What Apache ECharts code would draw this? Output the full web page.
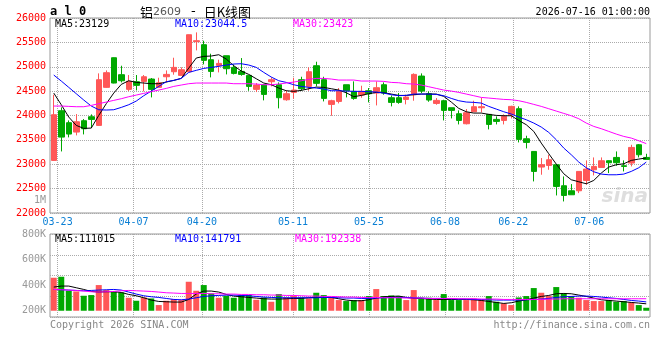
<!DOCTYPE html>
<html>
<head>
    <meta charset="utf-8">
    <title>铝2609 日K线图</title>
    <style>
        body { margin: 0; background: #fff; }
    </style>
</head>
<body>
    <div id="main" style="width: 660px;height:360px;"></div>
    <script src="https://cdn.jsdelivr.net/npm/echarts/dist/echarts.min.js"></script>
    <script>
        // trading days shown (03-20 .. 07-16)
        var dates = ['03-20', '03-23', '03-24', '03-25', '03-26', '03-27', '03-30', '03-31', '04-01', '04-02',
            '04-03', '04-07', '04-08', '04-09', '04-10', '04-13', '04-14', '04-15', '04-16', '04-17',
            '04-20', '04-21', '04-22', '04-23', '04-24', '04-27', '04-28', '04-29', '04-30', '05-06',
            '05-07', '05-08', '05-11', '05-12', '05-13', '05-14', '05-15', '05-18', '05-19', '05-20',
            '05-21', '05-22', '05-25', '05-26', '05-27', '05-28', '05-29', '06-01', '06-02', '06-03',
            '06-04', '06-05', '06-08', '06-09', '06-10', '06-11', '06-12', '06-15', '06-16', '06-17',
            '06-18', '06-22', '06-23', '06-24', '06-25', '06-26', '06-29', '06-30', '07-01', '07-02',
            '07-03', '07-06', '07-07', '07-08', '07-09', '07-10', '07-13', '07-14', '07-15', '07-16'];
        var tickDates = ['03-23', '04-07', '04-20', '05-11', '05-25', '06-08', '06-22', '07-06'];

        // [open, close, low, high]
        var kline = [
            [23079, 24016, 23070, 24426], [24098, 23557, 23263, 24166], [23852, 23619, 23551, 23899], [23660, 23872, 23592, 24029],
            [23893, 23728, 23612, 23927], [23975, 23920, 23742, 24023], [23797, 24734, 23790, 24864], [24577, 24878, 24570, 24925],
            [25185, 24666, 24660, 25190], [24837, 24713, 24679, 25021], [24536, 24700, 24501, 24830], [24693, 24618, 24515, 24830],
            [24700, 24795, 24494, 24830], [24748, 24536, 24371, 24768], [24577, 24672, 24570, 24775], [24795, 24843, 24680, 24925],
            [24898, 24987, 24837, 25185], [24823, 24939, 24823, 24987], [24898, 25657, 24898, 25660], [25514, 25534, 25336, 25705],
            [25452, 25131, 25049, 25534], [25144, 24905, 24782, 25267], [25028, 25069, 24884, 25144], [25226, 24960, 24843, 25226],
            [24987, 24864, 24843, 25049], [24905, 24843, 24816, 25178], [24823, 24597, 24508, 24823], [24536, 24624, 24481, 24665],
            [24631, 24433, 24310, 24631], [24693, 24734, 24597, 24782], [24631, 24365, 24146, 24679], [24323, 24447, 24303, 24515],
            [24474, 24522, 24344, 24775], [24734, 24549, 24508, 24795], [24597, 24898, 24508, 24987], [25021, 24659, 24597, 25103],
            [24734, 24351, 24289, 24795], [24228, 24303, 23995, 24323], [24289, 24495, 24248, 24563], [24631, 24508, 24371, 24631],
            [24495, 24351, 24323, 24700], [24419, 24495, 24365, 24611], [24508, 24447, 24269, 24563], [24460, 24570, 24207, 24700],
            [24631, 24460, 24426, 24679], [24365, 24269, 24187, 24412], [24365, 24269, 24241, 24460], [24330, 24378, 24228, 24426],
            [24426, 24843, 24303, 24864], [24809, 24501, 24460, 24864], [24447, 24317, 24282, 24495], [24248, 24310, 24221, 24358],
            [24303, 24105, 23899, 24323], [24159, 24105, 23940, 24159], [24036, 23899, 23817, 24105], [23831, 24057, 23817, 24132],
            [24077, 24180, 24070, 24303], [24159, 24180, 24064, 24365], [24023, 23817, 23715, 24030], [23920, 23879, 23817, 23982],
            [23899, 23982, 23817, 24023], [24016, 24187, 23940, 24200], [24139, 23510, 23448, 24187], [23523, 23448, 23325, 23585],
            [23263, 22853, 22648, 23263], [22942, 22990, 22785, 23127], [22976, 23092, 22887, 23195], [22990, 22545, 22360, 22990],
            [22559, 22360, 22237, 22750], [22456, 22374, 22374, 22593], [22456, 22853, 22408, 22853], [22668, 22901, 22579, 23079],
            [22887, 22956, 22771, 23140], [22935, 23072, 22935, 23140], [23072, 23031, 22819, 23080], [23140, 23031, 22969, 23263],
            [22969, 22956, 22853, 23079], [23024, 23345, 22956, 23400], [23400, 23195, 23140, 23414], [23140, 23099, 23099, 23215]
        ];

        var ma5 = [24460, 24221, 23968, 23797, 23735, 23742, 24002, 24242, 24460, 24638, 24713, 24679, 24666, 24652, 24652, 24686,
            24720, 24761, 24973, 25179, 25213, 25220, 25247, 25158, 25021, 24912, 24843, 24754, 24666, 24631, 24563, 24508,
            24495, 24515, 24549, 24583, 24577, 24549, 24522, 24467, 24385, 24412, 24447, 24474, 24467, 24440, 24412, 24412,
            24426, 24440, 24440, 24440, 24392, 24276, 24146, 24077, 24050, 24050, 24023, 24002, 23995, 23995, 23899, 23811,
            23674, 23434, 23216, 23003, 22805, 22682, 22641, 22600, 22668, 22819, 22942, 22990, 23010, 23079, 23106, 23129];
        var ma10 = [24830, 24707, 24577, 24447, 24317, 24194, 24118, 24112, 24118, 24166, 24221, 24296, 24406, 24501, 24597, 24693,
            24720, 24761, 24884, 24926, 24966, 24987, 25008, 25035, 25056, 25062, 25035, 24987, 24884, 24789, 24713, 24679,
            24631, 24597, 24577, 24563, 24543, 24508, 24508, 24501, 24495, 24495, 24488, 24481, 24460, 24426, 24406, 24413,
            24440, 24440, 24440, 24433, 24406, 24351, 24303, 24276, 24269, 24255, 24187, 24132, 24077, 24030, 23968, 23913,
            23845, 23763, 23653, 23503, 23332, 23195, 23045, 22928, 22846, 22798, 22784, 22784, 22798, 22853, 22928, 23044.5];
        var ma30 = [24194, 24194, 24187, 24180, 24180, 24207, 24242, 24276, 24310, 24344, 24385, 24419, 24454, 24488, 24522, 24556,
            24597, 24625, 24652, 24666, 24666, 24666, 24666, 24666, 24652, 24652, 24652, 24645, 24631, 24631, 24645, 24666,
            24686, 24713, 24741, 24761, 24761, 24748, 24727, 24727, 24727, 24707, 24707, 24707, 24700, 24679, 24672, 24652,
            24645, 24625, 24590, 24556, 24522, 24501, 24474, 24440, 24406, 24371, 24358, 24344, 24330, 24324, 24303, 24269,
            24228, 24187, 24139, 24091, 24043, 23995, 23934, 23845, 23776, 23729, 23674, 23619, 23571, 23537, 23482, 23423];

        var vol = [528000, 544000, 320000, 309000, 240000, 251000, 411000, 331000, 304000, 293000, 208000, 160000, 213000, 197000, 91000, 160000,
            187000, 171000, 464000, 320000, 411000, 277000, 208000, 240000, 208000, 251000, 251000, 176000, 213000, 144000, 267000, 213000,
            235000, 213000, 197000, 288000, 251000, 213000, 171000, 155000, 171000, 171000, 235000, 347000, 235000, 245000, 235000, 171000,
            331000, 208000, 208000, 171000, 267000, 171000, 171000, 171000, 197000, 171000, 235000, 144000, 117000, 91000, 213000, 235000,
            363000, 288000, 235000, 379000, 277000, 235000, 208000, 171000, 155000, 155000, 171000, 144000, 155000, 133000, 91000, 48000];
        var vma5 = [379000, 395000, 395000, 368000, 341000, 309000, 299000, 304000, 304000, 293000, 261000, 240000, 208000, 171000, 149000, 144000,
            139000, 139000, 181000, 267000, 315000, 315000, 299000, 261000, 235000, 224000, 213000, 203000, 192000, 187000, 187000, 192000,
            197000, 197000, 208000, 213000, 213000, 213000, 192000, 171000, 160000, 160000, 176000, 203000, 224000, 229000, 235000, 213000,
            197000, 197000, 187000, 181000, 181000, 181000, 181000, 181000, 176000, 165000, 149000, 133000, 117000, 128000, 155000, 176000,
            203000, 229000, 245000, 272000, 277000, 272000, 251000, 229000, 203000, 176000, 165000, 155000, 144000, 133000, 123000, 111015];
        var vma10 = [341000, 336000, 331000, 325000, 320000, 325000, 331000, 336000, 341000, 331000, 299000, 267000, 240000, 224000, 213000, 197000,
            181000, 176000, 187000, 208000, 229000, 240000, 245000, 251000, 251000, 245000, 240000, 229000, 219000, 213000, 208000, 208000,
            208000, 208000, 208000, 208000, 213000, 213000, 208000, 203000, 203000, 197000, 197000, 203000, 208000, 213000, 213000, 213000,
            208000, 203000, 197000, 197000, 197000, 192000, 187000, 187000, 181000, 181000, 176000, 171000, 171000, 171000, 171000, 176000,
            181000, 187000, 197000, 213000, 224000, 229000, 235000, 235000, 229000, 219000, 208000, 197000, 181000, 165000, 155000, 141791];
        var vma30 = [341000, 336000, 331000, 325000, 315000, 304000, 299000, 304000, 309000, 320000, 325000, 320000, 315000, 309000, 299000, 288000,
            283000, 277000, 277000, 277000, 277000, 272000, 272000, 267000, 267000, 261000, 261000, 256000, 256000, 251000, 251000, 245000,
            245000, 240000, 235000, 235000, 229000, 229000, 224000, 219000, 219000, 213000, 213000, 213000, 208000, 208000, 208000, 203000,
            203000, 203000, 197000, 197000, 197000, 197000, 192000, 192000, 192000, 187000, 187000, 187000, 181000, 181000, 181000, 181000,
            181000, 181000, 187000, 187000, 192000, 192000, 192000, 192000, 192000, 192000, 192000, 192000, 192000, 192000, 192000, 192338];

        var volTicks = [200000, 400000, 600000, 800000];

        var UP = '#ff5757', DOWN = '#00a800';
        var MONO = '"DejaVu Sans Mono", monospace';
        var gridDot = { color: '#aaa', type: [1, 1], width: 1 };

        function onTick(index, value) {
            return tickDates.indexOf(value) >= 0;
        }

        function txt(x, y, s, color, extra) {
            var el = {
                type: 'text', x: x, y: y, z: 10,
                style: { text: s, fill: color, font: '10px ' + MONO, verticalAlign: 'middle' }
            };
            if (extra) {
                for (var k in extra) el.style[k] = extra[k];
            }
            return el;
        }

        var myChart = echarts.init(document.getElementById('main'));
        var option = {
            animation: false,
            backgroundColor: '#fff',
            grid: [{
                    left: 50, top: 18, width: 600, height: 195, containLabel: false, outerBoundsMode: 'none',
                    show: true, borderColor: '#999', borderWidth: 1
                },
                {
                    left: 50, top: 234, width: 600, height: 83, containLabel: false, outerBoundsMode: 'none',
                    show: true, borderColor: '#999', borderWidth: 1
                }
            ],
            xAxis: [{
                    type: 'category', gridIndex: 0, data: dates, boundaryGap: true, show: false
                },
                {
                    type: 'category', gridIndex: 0, data: dates, boundaryGap: false, position: 'bottom',
                    axisLine: { show: false },
                    axisTick: { show: false },
                    axisLabel: {
                        interval: onTick, color: '#0a7fd4', margin: 4,
                        fontFamily: MONO, fontSize: 10
                    },
                    splitLine: { show: true, interval: onTick, lineStyle: gridDot }
                },
                {
                    type: 'category', gridIndex: 1, data: dates, boundaryGap: true, show: false
                },
                {
                    type: 'category', gridIndex: 1, data: dates, boundaryGap: false, position: 'bottom',
                    axisLine: { show: false },
                    axisTick: { show: false },
                    axisLabel: { show: false },
                    splitLine: { show: true, interval: onTick, lineStyle: gridDot }
                }
            ],
            yAxis: [{
                    type: 'value', gridIndex: 0, min: 22000, max: 26000, interval: 500, position: 'left',
                    axisLine: { show: false },
                    axisTick: { show: false },
                    axisLabel: {
                        color: '#ff0000', fontFamily: MONO, fontSize: 10, margin: 4,
                        padding: [0, 0, 4, 0], showMinLabel: true, showMaxLabel: true,
                        formatter: function (v) { return String(v); }
                    },
                    splitLine: { show: true, lineStyle: gridDot }
                },
                {
                    // volume bars scale
                    type: 'value', gridIndex: 1, min: -100000, max: 1228000, position: 'left', show: false,
                    splitLine: { show: false }
                },
                {
                    // volume axis labels
                    type: 'value', gridIndex: 1, min: 150000, max: 800000, interval: 50000, position: 'left',
                    axisLine: { show: false },
                    axisTick: { show: false },
                    splitLine: { show: false },
                    axisLabel: {
                        interval: 0,
                        formatter: function (v) {
                            return volTicks.indexOf(v) >= 0 ? Math.round(v / 1000) + 'K' : '';
                        },
                        color: '#999', fontFamily: MONO, fontSize: 10, margin: 4,
                        padding: [0, 0, 3, 0]
                    }
                },
                {
                    // volume grid lines
                    type: 'value', gridIndex: 1, min: 0, max: 4, interval: 1, position: 'left',
                    axisLine: { show: false },
                    axisTick: { show: false },
                    axisLabel: { show: false },
                    splitLine: { show: true, lineStyle: gridDot }
                }
            ],
            series: [{
                    type: 'candlestick', name: '日K', xAxisIndex: 0, yAxisIndex: 0,
                    data: kline, barWidth: 6,
                    itemStyle: {
                        color: UP, color0: DOWN, borderColor: UP, borderColor0: DOWN, borderWidth: 1
                    }
                },
                {
                    type: 'line', name: 'MA5', xAxisIndex: 0, yAxisIndex: 0, data: ma5,
                    showSymbol: false, lineStyle: { color: '#000', width: 1 }
                },
                {
                    type: 'line', name: 'MA10', xAxisIndex: 0, yAxisIndex: 0, data: ma10,
                    showSymbol: false, lineStyle: { color: '#0000ff', width: 1 }
                },
                {
                    type: 'line', name: 'MA30', xAxisIndex: 0, yAxisIndex: 0, data: ma30,
                    showSymbol: false, lineStyle: { color: '#ff00ff', width: 1 }
                },
                {
                    type: 'bar', name: 'Volume', xAxisIndex: 2, yAxisIndex: 1, data: vol, barWidth: 6,
                    itemStyle: {
                        color: function (p) {
                            var k = kline[p.dataIndex];
                            return k[1] >= k[0] ? UP : DOWN;
                        }
                    }
                },
                {
                    type: 'line', xAxisIndex: 2, yAxisIndex: 1, data: vma5,
                    showSymbol: false, lineStyle: { color: '#000', width: 1 }
                },
                {
                    type: 'line', xAxisIndex: 2, yAxisIndex: 1, data: vma10,
                    showSymbol: false, lineStyle: { color: '#0000ff', width: 1 }
                },
                {
                    type: 'line', xAxisIndex: 2, yAxisIndex: 1, data: vma30,
                    showSymbol: false, lineStyle: { color: '#ff00ff', width: 1 }
                }
            ],
            graphic: [
                txt(50, 12, 'a l 0', '#000', { font: 'bold 12px ' + MONO }),
                {
                    type: 'text', x: 140, y: 12,
                    style: {
                        text: '{a|铝}{b|2609}{c|-}{a|日K线图}', verticalAlign: 'middle',
                        rich: {
                            a: { fill: '#000', font: '13px "Noto Sans CJK SC"' },
                            b: { fill: '#555', font: '11px "DejaVu Sans"' },
                            c: { fill: '#000', font: '13px "DejaVu Sans"', padding: [0, 8, 0, 10] }
                        }
                    }
                },
                txt(650, 12, '2026-07-16 01:00:00', '#000', { align: 'right' }),
                txt(55, 24, 'MA5:23129', '#000'),
                txt(175, 24, 'MA10:23044.5', '#0000ff'),
                txt(293, 24, 'MA30:23423', '#ff00ff'),
                txt(46, 200, '1M', '#999', { align: 'right' }),
                txt(55, 239, 'MA5:111015', '#000'),
                txt(175, 239, 'MA10:141791', '#0000ff'),
                txt(295, 239, 'MA30:192338', '#ff00ff'),
                txt(50, 325, 'Copyright 2026 SINA.COM', '#888'),
                txt(650, 325, 'http://finance.sina.com.cn', '#888', { align: 'right' }),
                {
                    type: 'text', x: 648, y: 197, z: 1,
                    style: {
                        text: 'sina', fill: 'rgba(200,200,200,0.6)', align: 'right', verticalAlign: 'middle',
                        font: 'italic bold 20px "DejaVu Sans"'
                    }
                }
            ]
        };

        myChart.setOption(option);
    </script>
</body>
</html>
